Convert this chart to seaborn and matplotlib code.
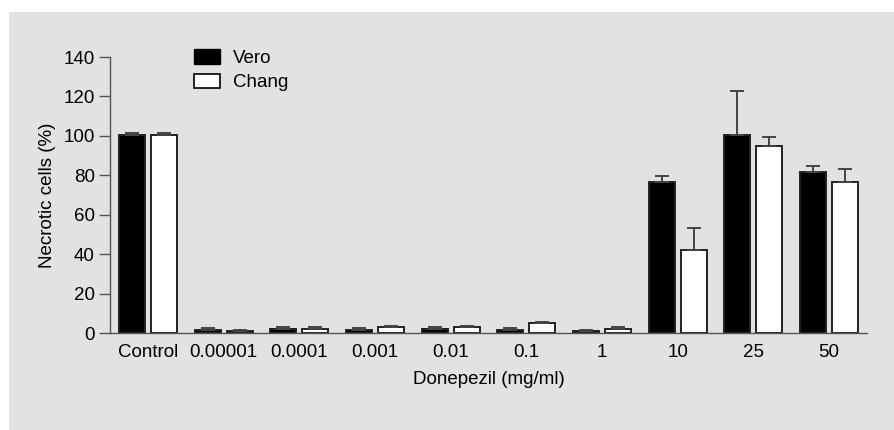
import numpy as np
import pandas as pd
import seaborn as sns
import matplotlib.pyplot as plt
from matplotlib.patches import Rectangle, Patch

# Значения
doses = ['Control', '0.00001', '0.0001', '0.001', '0.01', '0.1', '1', '10', '25', '50']
vero = [100.5, 1.5, 2.0, 1.4, 2.0, 1.3, 1.2, 76.5, 100.5, 81.5]
vero_err = [1.2, 1.0, 1.0, 1.0, 1.0, 1.0, 0.4, 3.2, 22.5, 3.0]
chang = [100.3, 1.2, 1.8, 2.8, 2.8, 5.0, 2.0, 42.3, 94.8, 76.8]
chang_err = [1.2, 0.5, 1.0, 1.0, 0.8, 0.8, 0.8, 11.0, 4.8, 6.4]

df = pd.DataFrame({
    'dose': doses * 2,
    'value': vero + chang,
    'line': ['Vero'] * len(doses) + ['Chang'] * len(doses),
})

sns.set_style('white')
plt.rcParams['font.family'] = ['Liberation Sans', 'DejaVu Sans']
plt.rcParams['text.color'] = 'black'
plt.rcParams['axes.labelcolor'] = 'black'

fig = plt.figure(figsize=(8.95, 4.30), dpi=100)
fig.patches.append(Rectangle((9 / 895, 0), 1, 1 - 12 / 430, transform=fig.transFigure,
                             facecolor='#e2e2e2', edgecolor='none', zorder=-10))
ax = fig.add_axes([110 / 895, 1 - 333 / 430, 757 / 895, 276 / 430])
ax.set_facecolor('none')

sns.barplot(data=df, x='dose', y='value', hue='line', order=doses,
            palette={'Vero': 'black', 'Chang': 'white'}, errorbar=None,
            width=0.845, gap=0.188, edgecolor='#222222', linewidth=1.4,
            legend=False, ax=ax)

# Односторонние планки погрешностей (вверх)
for cont, errs in zip(ax.containers, [vero_err, chang_err]):
    xs = [b.get_x() + b.get_width() / 2 for b in cont]
    hs = [b.get_height() for b in cont]
    ax.errorbar(xs, hs, yerr=[np.zeros(len(errs)), errs], fmt='none',
                ecolor='#444444', elinewidth=1.4, capsize=5, capthick=1.4, zorder=1)

ax.set_xlim(-0.5, len(doses) - 0.5)
ax.set_ylim(0, 140)
ax.set_yticks(range(0, 141, 20))
ax.set_xticks(np.arange(-0.5, len(doses), 1), minor=True)
ax.tick_params(axis='x', which='major', length=0, pad=8, labelsize=13.5, labelcolor='black')
ax.tick_params(axis='x', which='minor', length=8, width=1, color='#555555', direction='out')
ax.tick_params(axis='y', length=8, width=1, color='#555555', direction='out',
               left=True, labelsize=13.5, pad=3, labelcolor='black')

sns.despine(ax=ax)
for s in ['left', 'bottom']:
    ax.spines[s].set_color('#555555')
    ax.spines[s].set_linewidth(1)

ax.set_xlabel('Donepezil (mg/ml)', fontsize=13.5, labelpad=7)
ax.set_ylabel('Necrotic cells (%)', fontsize=13.5, labelpad=5)

handles = [Patch(facecolor='black', edgecolor='black', label='Vero'),
           Patch(facecolor='white', edgecolor='black', linewidth=1.2, label='Chang')]
ax.legend(handles=handles, loc='upper left', bbox_to_anchor=(0.101, 1.055),
          frameon=False, fontsize=13.5, handlelength=1.4, handleheight=0.8,
          labelspacing=0.35, handletextpad=0.7, borderaxespad=0)

fig.savefig('out.png', dpi=100)
